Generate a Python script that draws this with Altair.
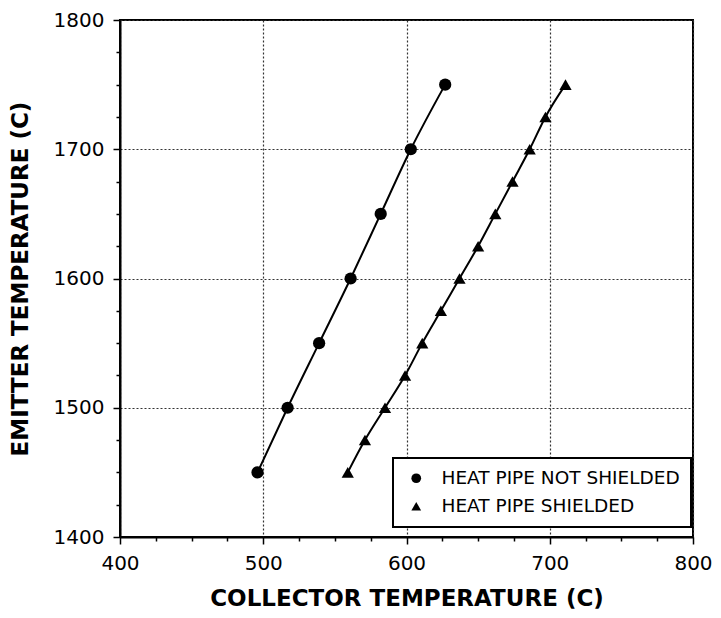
import altair as alt
import pandas as pd

# --- data ---
series_names = ["HEAT PIPE NOT SHIELDED", "HEAT PIPE SHIELDED"]

not_shielded_collector = [496, 517, 539, 561, 582, 603, 627]
not_shielded_emitter = [1450, 1500, 1550, 1600, 1650, 1700, 1750]

shielded_collector = [559, 571, 585, 599, 611, 624, 637, 650, 662, 674, 686, 697, 711]
shielded_emitter = [1450, 1475, 1500, 1525, 1550, 1575, 1600, 1625, 1650, 1675, 1700, 1725, 1750]

x_ticks = [400, 425, 450, 475, 500, 525, 550, 575, 600, 625, 650, 675, 700, 725, 750, 775, 800]
y_ticks = [1400, 1425, 1450, 1475, 1500, 1525, 1550, 1575, 1600, 1625, 1650, 1675, 1700, 1725, 1750, 1775, 1800]

rows = []
for cx, ey in zip(not_shielded_collector, not_shielded_emitter):
    rows.append({"collector": cx, "emitter": ey, "series": series_names[0]})
for cx, ey in zip(shielded_collector, shielded_emitter):
    rows.append({"collector": cx, "emitter": ey, "series": series_names[1]})
df = pd.DataFrame(rows)

FONT = "DejaVu Sans"
major = "datum.value % 100 === 0"

x_enc = alt.X(
    "collector:Q",
    scale=alt.Scale(domain=[400, 800], nice=False, zero=False),
    axis=alt.Axis(
        title="COLLECTOR TEMPERATURE (C)",
        values=x_ticks,
        format="d",
        labelExpr=f"{major} ? datum.label : ''",
        tickSize={"condition": {"test": major, "value": 7}, "value": 4},
        gridOpacity={"condition": {"test": major, "value": 1}, "value": 0},
        labelFlush=False,
    ),
)
y_enc = alt.Y(
    "emitter:Q",
    scale=alt.Scale(domain=[1400, 1800], nice=False, zero=False),
    axis=alt.Axis(
        title="EMITTER TEMPERATURE (C)",
        values=y_ticks,
        format="d",
        labelExpr=f"{major} ? datum.label : ''",
        tickSize={"condition": {"test": major, "value": 7}, "value": 4},
        gridOpacity={"condition": {"test": major, "value": 1}, "value": 0},
        labelFlush=False,
    ),
)

lines = alt.Chart(df).mark_line(color="black", strokeWidth=2, interpolate="monotone").encode(
    x=x_enc, y=y_enc, detail="series:N"
)

points = alt.Chart(df).mark_point(filled=True, opacity=1, size=150, color="black").encode(
    x=x_enc,
    y=y_enc,
    shape=alt.Shape(
        "series:N",
        scale=alt.Scale(domain=series_names, range=["circle", "triangle-up"]),
        legend=alt.Legend(
            title=None,
            orient="none",
            legendX=273,
            legendY=438,
            strokeColor="black",
            fillColor="white",
            padding=11,
            symbolSize=95,
            symbolFillColor="black",
            symbolStrokeColor="black",
            symbolOffset=3,
            labelOffset=16,
            labelFont=FONT,
            labelFontSize=18.5,
            labelColor="black",
            rowPadding=9,
            labelLimit=400,
        ),
    ),
)

chart = (
    alt.layer(lines, points)
    .properties(
        width=573,
        height=517,
        autosize=alt.AutoSizeParams(type="none"),
        padding={"left": 112, "top": 12, "right": 20, "bottom": 73},
        background="white",
    )
    .configure_view(stroke="black", strokeWidth=2)
    .configure_legend(strokeWidth=2)
    .configure_axis(
        domainColor="black",
        domainWidth=2,
        tickColor="black",
        tickWidth=1.5,
        gridColor="#333333",
        gridDash=[2, 2],
        gridWidth=1.2,
        labelFont=FONT,
        labelFontSize=20,
        labelColor="black",
        labelPadding=9,
        titleFont=FONT,
        titleFontSize=23,
        titleFontWeight="bold",
        titleColor="black",
    )
    .configure_axisX(titlePadding=14)
    .configure_axisY(titlePadding=21)
)

chart.save("out.html", embed_options={"renderer": "svg", "actions": False})
